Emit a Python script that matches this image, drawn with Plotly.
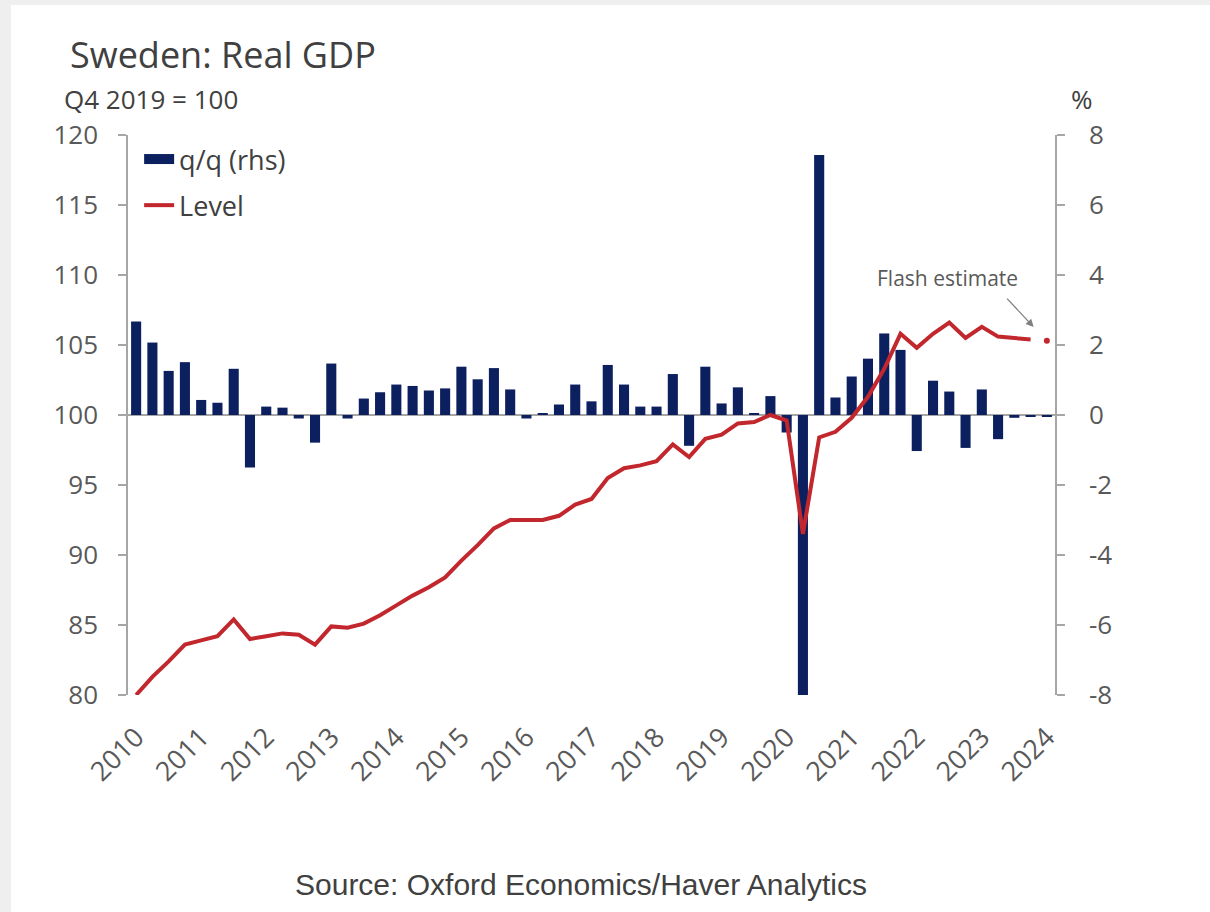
import plotly.graph_objects as go

years = [str(y) for y in range(2010, 2025)]
quarters = [f"{y} Q{q}" for y in range(2010, 2025) for q in range(1, 5)][:57]

qq_growth = [
    2.67, 2.07, 1.26, 1.51, 0.43, 0.35, 1.32, -1.50, 0.24, 0.21, -0.10, -0.79,
    1.47, -0.10, 0.47, 0.65, 0.87, 0.83, 0.70, 0.76, 1.38, 1.02, 1.34, 0.73,
    -0.10, 0.05, 0.30, 0.87, 0.39, 1.43, 0.87, 0.24, 0.24, 1.17, -0.88, 1.38,
    0.33, 0.79, 0.03, 0.54, -0.50, -8.00, 7.43, 0.50, 1.10, 1.61, 2.33, 1.86,
    -1.03, 0.98, 0.67, -0.94, 0.73, -0.69, -0.08, -0.05, -0.05,
]

level = [
    80.0, 81.3, 82.4, 83.6, 83.9, 84.2, 85.4, 84.0, 84.2, 84.4, 84.3, 83.6,
    84.9, 84.8, 85.1, 85.7, 86.4, 87.1, 87.7, 88.4, 89.6, 90.7, 91.9, 92.5,
    92.5, 92.5, 92.8, 93.6, 94.0, 95.5, 96.2, 96.4, 96.7, 97.9, 97.0, 98.3,
    98.6, 99.4, 99.5, 100.0, 99.6, 91.5, 98.4, 98.8, 99.8, 101.3, 103.3, 105.8,
    104.8, 105.8, 106.6, 105.5, 106.3, 105.6, 105.5, 105.4, 105.3,
]

pct_ticks = [-8, -6, -4, -2, 0, 2, 4, 6, 8]
pct_labels = ["-8", "-6", "-4", "-2", "0", "2", "4", "6", "8"]

idx = list(range(len(quarters)))
tick_idx = idx[::4]

NAVY = "#0c1f5e"
RED = "#c1272d"
AXIS = "#a6a6a6"
TXT = "#595959"
DARK = "#404040"
FONT = "Open Sans"

fig = go.Figure()
fig.add_trace(go.Bar(
    x=idx, y=qq_growth, name="q/q (rhs)", marker=dict(color=NAVY, line=dict(width=0)),
    yaxis="y", legendgroup="a", showlegend=False, hovertext=quarters,
))
# legend entry for the bars, drawn as a wide rectangle swatch
fig.add_trace(go.Scatter(
    x=[None], y=[None], name="q/q (rhs)", mode="lines",
    line=dict(color=NAVY, width=18), yaxis="y", legendgroup="a",
))
fig.add_trace(go.Scatter(
    x=idx[:-1], y=level[:-1], name="Level", mode="lines",
    line=dict(color=RED, width=4), yaxis="y2", legendgroup="b", hovertext=quarters[:-1],
))
fig.add_trace(go.Scatter(
    x=idx[-1:], y=level[-1:], name="Flash estimate", mode="markers",
    marker=dict(color=RED, size=6), yaxis="y2", showlegend=False,
))

fig.update_layout(
    width=1210, height=912,
    margin=dict(l=128, r=155, t=135, b=217),
    paper_bgcolor="white", plot_bgcolor="white",
    font=dict(family=FONT, color=TXT, size=22),
    bargap=0.38,
    showlegend=True,
    legend=dict(
        x=0.012, y=1.0, xanchor="left", yanchor="top",
        bgcolor="rgba(0,0,0,0)", font=dict(size=27, color=DARK),
        traceorder="grouped", tracegroupgap=8, itemwidth=30,
    ),
    xaxis=dict(
        range=[-0.5, 56.5], tickvals=tick_idx, ticktext=years, tickangle=-45,
        showline=False, ticks="", showgrid=False, zeroline=False,
        tickfont=dict(size=27, color=TXT), ticklabelstandoff=20,
    ),
    yaxis=dict(
        side="right", range=[-8, 8], tickvals=pct_ticks, ticktext=pct_labels, showgrid=False,
        showline=True, linecolor=AXIS, linewidth=1.5,
        ticks="outside", ticklen=8, tickcolor=AXIS, tickwidth=1.5,
        zeroline=True, zerolinecolor=AXIS, zerolinewidth=1.5,
        tickfont=dict(size=26, color=TXT), ticklabelstandoff=19,
    ),
    yaxis2=dict(
        overlaying="y", side="left", range=[80, 120], dtick=5, showgrid=False,
        showline=True, linecolor=AXIS, linewidth=1.5,
        ticks="outside", ticklen=8, tickcolor=AXIS, tickwidth=1.5,
        zeroline=False, tickfont=dict(size=26, color=TXT), ticklabelstandoff=15,
    ),
)

annotations = [
    dict(text="Sweden: Real GDP", x=-0.0647, y=1.143, xref="paper", yref="paper",
         xanchor="left", yanchor="middle", showarrow=False,
         font=dict(size=36, color=DARK, family=FONT)),
    dict(text="Q4 2019 = 100", x=-0.0712, y=1.0645, xref="paper", yref="paper",
         xanchor="left", yanchor="middle", showarrow=False,
         font=dict(size=26, color=DARK, family=FONT)),
    dict(text="%", x=1.029, y=1.0645, xref="paper", yref="paper",
         xanchor="center", yanchor="middle", showarrow=False,
         font=dict(size=26, color=DARK, family=FONT)),
    dict(text="Source: Oxford Economics/Haver Analytics", x=0.4887, y=-0.339,
         xref="paper", yref="paper", xanchor="center", yanchor="middle", showarrow=False,
         font=dict(size=30, color=DARK, family="Liberation Sans")),
    dict(text="Flash estimate", x=0.8835, y=0.745, xref="paper", yref="paper",
         xanchor="center", yanchor="middle", showarrow=False,
         font=dict(size=21, color=TXT, family=FONT)),
    dict(text="", x=0.977, y=0.657, xref="paper", yref="paper",
         ax=-28, ay=-30, showarrow=True, arrowhead=2, arrowsize=1.2,
         arrowwidth=1.3, arrowcolor="#808080"),
]
fig.update_layout(annotations=annotations)

fig.update_layout(shapes=[
    dict(type="rect", xref="paper", yref="paper", x0=-0.139, x1=-0.1262,
         y0=-0.39, y1=1.245, fillcolor="#efefef", line=dict(width=0), layer="below"),
    dict(type="rect", xref="paper", yref="paper", x0=-0.139, x1=1.17,
         y0=1.232, y1=1.245, fillcolor="#efefef", line=dict(width=0), layer="below"),
])

fig.write_html("out.html")
